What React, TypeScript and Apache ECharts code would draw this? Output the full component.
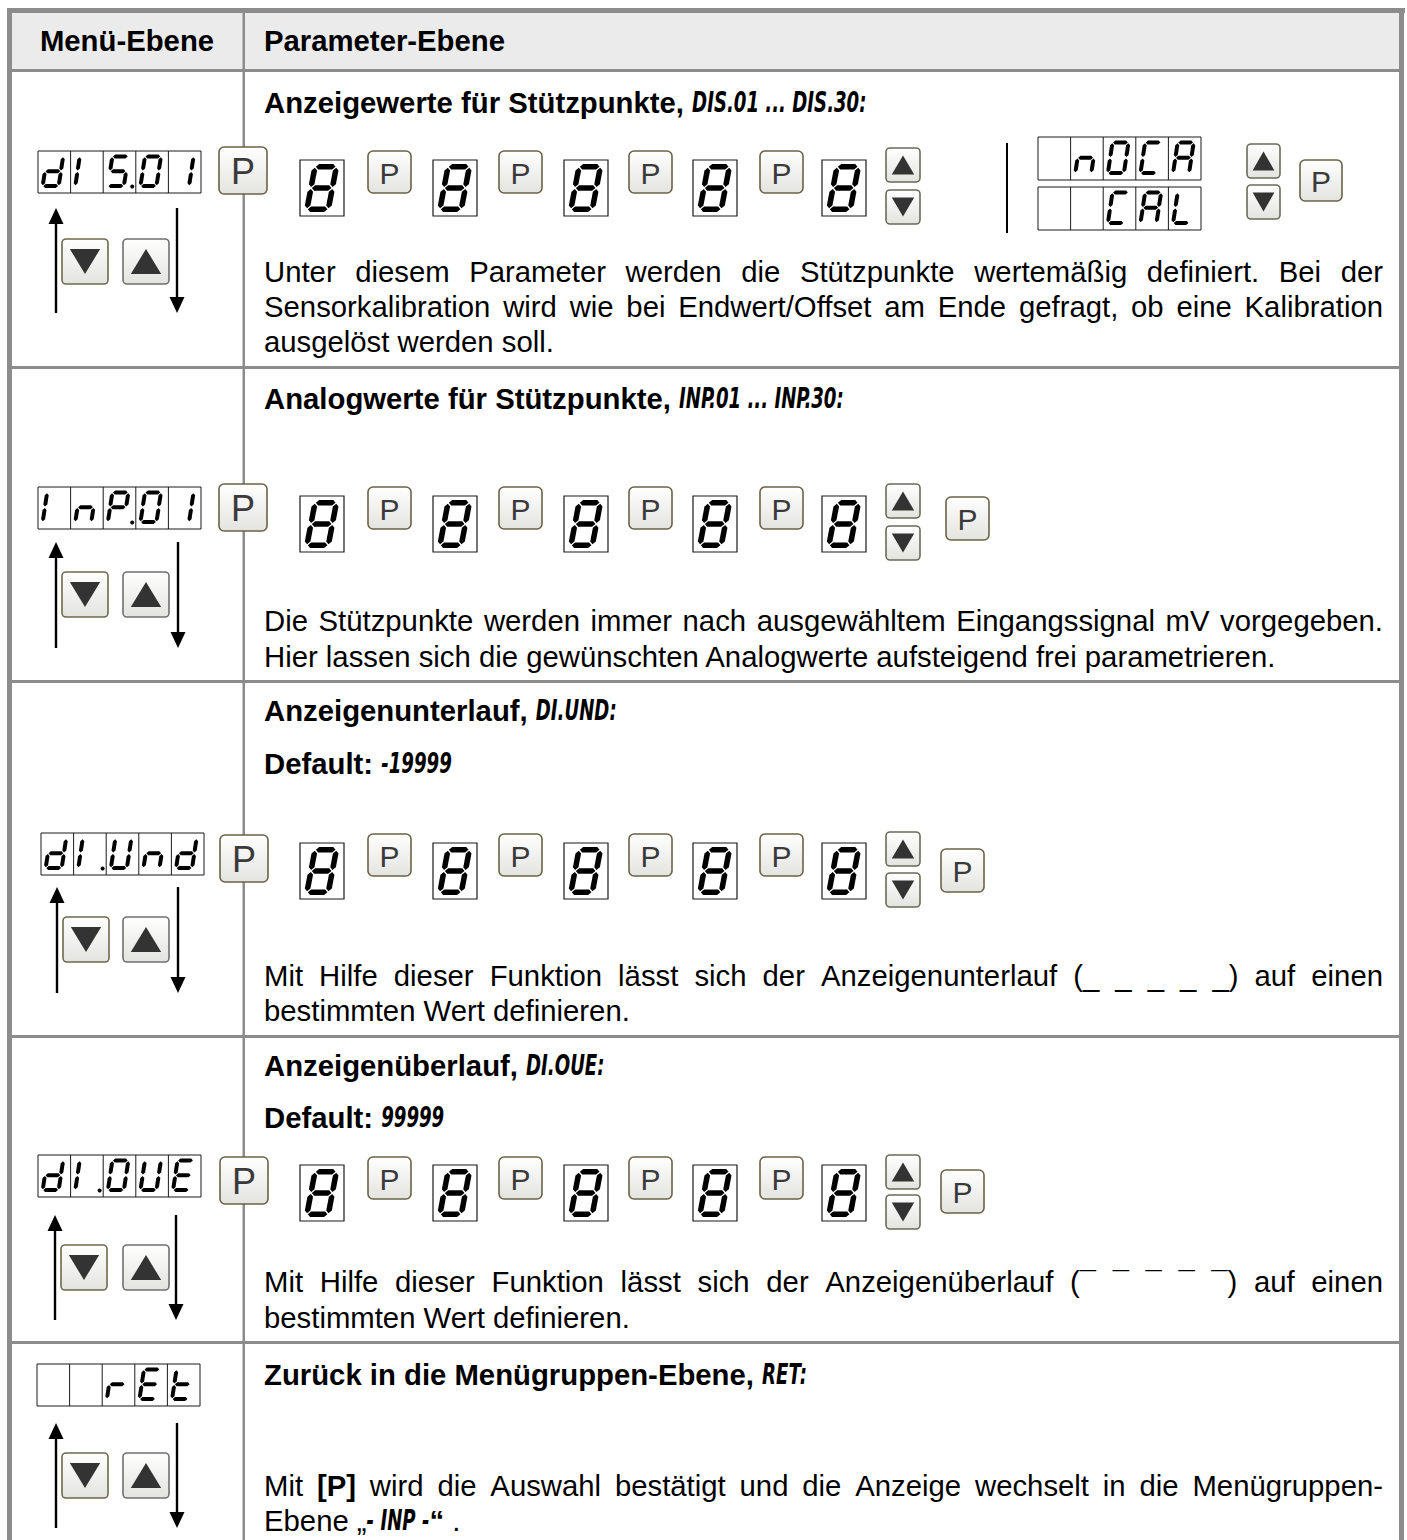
import React, { useEffect, useRef } from "react";
import * as echarts from "echarts";

const W = 1407;
const H = 1540;
const FONT = "'Liberation Sans', Arial, Helvetica, sans-serif";
const DIGI = "'Liberation Sans Narrow', 'DejaVu Sans Condensed', 'Liberation Sans', sans-serif";
const DIGI_SCALE = 0.72;

type Kind = "r" | "b" | "d";
type Run = [string, Kind];

// ---------- content ----------
const headerTitles = ["Menü-Ebene", "Parameter-Ebene"];

const menuDisplays: string[][] = [
  ["d", "I", "S.", "0", "1"],
  ["I", "n", "P.", "0", "1"],
  ["d", "I.", "U", "n", "d"],
  ["d", "I.", "O", "U", "E"],
  [" ", " ", "r", "E", "t"],
];
const calDisplays: string[][] = [
  [" ", "n", "O", "C", "A"],
  [" ", " ", "C", "A", "L"],
];
const editDigit = "8";

const titles: Run[][] = [
  [["Anzeigewerte für Stützpunkte, ", "b"], ["DIS.01 ... DIS.30:", "d"]],
  [["Analogwerte für Stützpunkte, ", "b"], ["INP.01 ... INP.30:", "d"]],
  [["Anzeigenunterlauf, ", "b"], ["DI.UND:", "d"]],
  [["Anzeigenüberlauf, ", "b"], ["DI.OUE:", "d"]],
  [["Zurück in die Menügruppen-Ebene, ", "b"], ["RET:", "d"]],
];
const defaults: (Run[] | null)[] = [
  null,
  null,
  [["Default: ", "b"], ["-19999", "d"]],
  [["Default: ", "b"], ["99999", "d"]],
  null,
];

const paragraph1: Run[][] = [
  [["Unter diesem Parameter werden die Stützpunkte wertemäßig definiert. Bei der", "r"]],
  [["Sensorkalibration wird wie bei Endwert/Offset am Ende gefragt, ob eine Kalibration", "r"]],
  [["ausgelöst werden soll.", "r"]],
];
const paragraph2: Run[][] = [
  [["Die Stützpunkte werden immer nach ausgewähltem Eingangssignal mV vorgegeben.", "r"]],
  [["Hier lassen sich die gewünschten Analogwerte aufsteigend frei parametrieren.", "r"]],
];
const paragraph3: Run[][] = [
  [["Mit Hilfe dieser Funktion lässt sich der Anzeigenunterlauf (_ _ _ _ _) auf einen", "r"]],
  [["bestimmten Wert definieren.", "r"]],
];
const paragraph4: Run[][] = [
  [["Mit Hilfe dieser Funktion lässt sich der Anzeigenüberlauf (¯ ¯ ¯ ¯ ¯) auf einen", "r"]],
  [["bestimmten Wert definieren.", "r"]],
];
const paragraph5: Run[][] = [
  [["Mit ", "r"], ["[P]", "b"], [" wird die Auswahl bestätigt und die Anzeige wechselt in die Menügruppen-", "r"]],
  [["Ebene „", "r"], ["- INP -", "d"], ["“", "b"], [" .", "r"]],
];
const paragraphs = [paragraph1, paragraph2, paragraph3, paragraph4, paragraph5];

// seven-segment maps
const SEG: Record<string, string> = {
  "8": "abcdefg", "0": "abcdef", O: "abcdef", "1": "bc", I: "ef", d: "bcdeg",
  S: "acdfg", n: "ceg", P: "abefg", U: "bcdef", E: "adefg", r: "eg", t: "defg",
  C: "adef", A: "abcefg", L: "def", " ": "",
};

// ---------- layout ----------
const titleY = [102, 398, 710, 1065, 1374];
const defaultY = [0, 0, 763, 1117, 0];
const paraY = [[271, 306, 341], [620, 656], [975, 1010], [1281, 1317], [1485, 1520]];
const menuDispPos = [[38, 151], [38, 487], [41, 833], [38, 1155], [37, 1364]];
const menuPPos = [[219, 147], [219, 484], [220, 835], [220, 1157]];
const arrowPos = [[56, 177, 208, 313], [56, 178, 542, 648], [57, 178, 887, 993], [55, 176, 1215, 1320], [56, 177, 1423, 1528]];
const menuBtnY = [239, 572, 917, 1245, 1453];
const boxX = [300, 433, 564, 693, 822];
const pX = [368, 499, 629, 760];
const boxY = [160, 496, 843, 1165];
const pY = [151, 487, 834, 1157];
const upY = [148, 484, 832, 1155];
const downY = [190, 526, 873, 1195];
const finalP: (number[] | null)[] = [null, [946, 497], [941, 849], [941, 1170]];

export default function App() {
  const ref = useRef<HTMLDivElement>(null);
  useEffect(() => {
    if (!ref.current) return;
    const chart = echarts.init(ref.current, undefined, { renderer: "svg" });
    const ctx = document.createElement("canvas").getContext("2d") as CanvasRenderingContext2D;
    const fontStr = (k: Kind) =>
      k === "r" ? `29.3px ${FONT}` : k === "b" ? `bold 29.3px ${FONT}` : `italic bold 28px ${DIGI}`;
    const measure = (t: string, k: Kind) => {
      ctx.font = fontStr(k);
      return ctx.measureText(t).width * (k === "d" ? DIGI_SCALE : 1);
    };
    const els: any[] = [];
    const grad = () =>
      new echarts.graphic.LinearGradient(0, 0, 0, 1, [
        { offset: 0, color: "#ffffff" },
        { offset: 1, color: "#e3e3df" },
      ]);
    const textEl = (t: string, x: number, y: number, k: Kind, align = "left") => ({
      type: "text",
      x,
      y,
      scaleX: k === "d" ? DIGI_SCALE : 1,
      silent: true,
      style: {
        text: t, font: fontStr(k), fill: "#000",
        align, textAlign: align, verticalAlign: "middle", textVerticalAlign: "middle",
      },
    });
    const drawRuns = (runs: Run[], x: number, y: number) => {
      let cx = x;
      for (const [t, k] of runs) {
        els.push(textEl(t, cx, y, k));
        cx += measure(t, k);
      }
    };
    const toWords = (runs: Run[]) => {
      const words: Run[][] = [];
      let cur: Run[] = [];
      for (const [txt, k] of runs) {
        txt.split(" ").forEach((p, i) => {
          if (i > 0) {
            if (cur.length) words.push(cur);
            cur = [];
          }
          if (p) cur.push([p, k]);
        });
      }
      if (cur.length) words.push(cur);
      return words;
    };
    const drawJustified = (runs: Run[], x0: number, x1: number, y: number) => {
      const words = toWords(runs);
      const widths = words.map((w) => w.reduce((s, [t, k]) => s + measure(t, k), 0));
      const total = widths.reduce((a, b) => a + b, 0);
      const gap = (x1 - x0 - total) / (words.length - 1);
      let cx = x0;
      words.forEach((w, i) => {
        let px = cx;
        w.forEach(([t, k]) => {
          els.push(textEl(t, px, y, k));
          px += measure(t, k);
        });
        cx += widths[i] + gap;
      });
    };

    const glyph = (ch: string, gx: number, gy: number, gw: number, gh: number, t: number, k: number) => {
      const segs = SEG[ch] || "";
      const ht = t / 2;
      const g = Math.max(0.5, t * 0.16);
      const h2 = gh / 2;
      const tf = (p: number[]) => [gx + p[0] + (gh - p[1]) * k, gy + p[1]];
      const hor = (yc: number) => {
        const x0 = ht + g, x1 = gw - ht - g;
        return [[x0, yc], [x0 + ht, yc - ht], [x1 - ht, yc - ht], [x1, yc], [x1 - ht, yc + ht], [x0 + ht, yc + ht]];
      };
      const ver = (xc: number, y0: number, y1: number) => [
        [xc, y0], [xc + ht, y0 + ht], [xc + ht, y1 - ht], [xc, y1], [xc - ht, y1 - ht], [xc - ht, y0 + ht],
      ];
      const map: Record<string, number[][]> = {
        a: hor(ht), g: hor(h2), d: hor(gh - ht),
        f: ver(ht, ht + g, h2 - g), e: ver(ht, h2 + g, gh - ht - g),
        b: ver(gw - ht, ht + g, h2 - g), c: ver(gw - ht, h2 + g, gh - ht - g),
      };
      for (const s of segs) {
        els.push({ type: "polygon", silent: true, shape: { points: map[s].map(tf) }, style: { fill: "#000" } });
      }
    };

    const display = (cells: string[], x: number, y: number, w: number, h: number) => {
      const cw = w / cells.length;
      els.push({ type: "rect", silent: true, shape: { x, y, width: w, height: h }, style: { fill: "#fff", stroke: "#1a1a1a", lineWidth: 1 } });
      for (let i = 1; i < cells.length; i++) {
        els.push({ type: "line", silent: true, shape: { x1: x + i * cw, y1: y, x2: x + i * cw, y2: y + h }, style: { stroke: "#1a1a1a", lineWidth: 1 } });
      }
      cells.forEach((c, i) => {
        glyph(c[0], x + i * cw + 2.4, y + 3.5, 20, h - 8.5, 4, 0.15);
        if (c.includes(".")) {
          els.push({ type: "circle", silent: true, shape: { cx: x + (i + 1) * cw - 3.6, cy: y + h - 6.5, r: 2 }, style: { fill: "#000" } });
        }
      });
    };

    const bigDigit = (x: number, y: number) => {
      els.push({ type: "rect", silent: true, shape: { x, y, width: 44, height: 56 }, style: { fill: "#fff", stroke: "#1a1a1a", lineWidth: 1.2 } });
      glyph(editDigit, x + 3.6, y + 4, 27, 48, 5.6, 0.19);
    };

    const pButton = (x: number, y: number, w: number, h: number, fs: number) => {
      els.push({ type: "rect", silent: true, shape: { x, y, width: w, height: h, r: 5 }, style: { fill: grad(), stroke: "#6b6246", lineWidth: 1.6 } });
      els.push({
        type: "text", silent: true, x: x + w / 2, y: y + h / 2 + 1,
        style: { text: "P", font: `${fs}px ${FONT}`, fill: "#3a3a3a", align: "center", textAlign: "center", verticalAlign: "middle", textVerticalAlign: "middle" },
      });
    };

    const triButton = (x: number, y: number, w: number, h: number, dir: "up" | "down", stroke: string) => {
      els.push({ type: "rect", silent: true, shape: { x, y, width: w, height: h, r: 4 }, style: { fill: grad(), stroke, lineWidth: 1.6 } });
      const tw = w * 0.66, th = h * 0.56, cx = x + w / 2, cy = y + h / 2;
      const pts = dir === "up"
        ? [[cx, cy - th / 2], [cx + tw / 2, cy + th / 2], [cx - tw / 2, cy + th / 2]]
        : [[cx - tw / 2, cy - th / 2], [cx + tw / 2, cy - th / 2], [cx, cy + th / 2]];
      els.push({ type: "polygon", silent: true, shape: { points: pts }, style: { fill: "#333" } });
    };

    const vArrow = (x: number, y0: number, y1: number, dir: "up" | "down") => {
      els.push({
        type: "line", silent: true,
        shape: { x1: x, y1: dir === "up" ? y0 + 12 : y0, x2: x, y2: dir === "up" ? y1 : y1 - 12 },
        style: { stroke: "#000", lineWidth: 2.4 },
      });
      const pts = dir === "up"
        ? [[x, y0], [x - 7.5, y0 + 16], [x + 7.5, y0 + 16]]
        : [[x, y1], [x - 7.5, y1 - 16], [x + 7.5, y1 - 16]];
      els.push({ type: "polygon", silent: true, shape: { points: pts }, style: { fill: "#000" } });
    };

    // ---------- table ----------
    const GRID = "#8c8c8c";
    els.push({ type: "rect", silent: true, shape: { x: 0, y: 0, width: W, height: H }, style: { fill: "#fff" } });
    els.push({ type: "rect", silent: true, shape: { x: 12, y: 13, width: 1388, height: 56 }, style: { fill: "#ebebeb" } });
    const bars = [
      [7, 8, 5, H], [7, 8, 1398, 5], [1399, 8, 5, H],
      [12, 69, 1388, 3], [12, 366, 1388, 3], [12, 680, 1388, 3], [12, 1035, 1388, 3], [12, 1341, 1388, 3],
      [242.5, 13, 2.5, H],
    ];
    bars.forEach(([x, y, w, h]) =>
      els.push({ type: "rect", silent: true, shape: { x, y, width: w, height: h }, style: { fill: GRID } })
    );

    // header
    els.push(textEl(headerTitles[0], 127, 40, "b", "center"));
    els.push(textEl(headerTitles[1], 264, 40, "b"));

    // left column
    menuDisplays.forEach((cells, i) => {
      const [x, y] = menuDispPos[i];
      display(cells, x, y, 163, 42);
      if (menuPPos[i]) pButton(menuPPos[i][0], menuPPos[i][1], 48, 47, 36);
      const [ux, dx, y0, y1] = arrowPos[i];
      vArrow(ux, y0, y1, "up");
      vArrow(dx, y0, y1, "down");
      triButton(ux + 6, menuBtnY[i], 46, 45, "down", "#6e6a4c");
      triButton(123, menuBtnY[i], 46, 45, "up", "#707070");
    });

    // parameter column: edit sequences
    boxY.forEach((by, r) => {
      boxX.forEach((bx) => bigDigit(bx, by));
      pX.forEach((px) => pButton(px, pY[r], 43, 42, 30));
      triButton(886, upY[r], 34, 34, "up", "#6b6b58");
      triButton(886, downY[r], 34, 34, "down", "#6b6b58");
      const fp = finalP[r];
      if (fp) pButton(fp[0], fp[1], 43, 43, 30);
    });

    // row 1 right part
    els.push({ type: "line", silent: true, shape: { x1: 1007, y1: 143, x2: 1007, y2: 233 }, style: { stroke: "#000", lineWidth: 2 } });
    display(calDisplays[0], 1038, 137, 163, 43);
    display(calDisplays[1], 1038, 187, 163, 43);
    triButton(1247, 144, 33, 34, "up", "#6b6b58");
    triButton(1247, 185, 33, 34, "down", "#6b6b58");
    pButton(1300, 160, 42, 41, 30);

    // texts
    titles.forEach((runs, i) => drawRuns(runs, 264, titleY[i]));
    defaults.forEach((runs, i) => {
      if (runs) drawRuns(runs, 264, defaultY[i]);
    });
    paragraphs.forEach((lines, i) => {
      lines.forEach((runs, j) => {
        if (j < lines.length - 1) drawJustified(runs, 264, 1383, paraY[i][j]);
        else drawRuns(runs, 264, paraY[i][j]);
      });
    });

    chart.setOption({ animation: false, graphic: { elements: els } });
    return () => chart.dispose();
  }, []);
  return <div ref={ref} style={{ position: "absolute", left: 0, top: 0, width: W, height: H }} />;
}
